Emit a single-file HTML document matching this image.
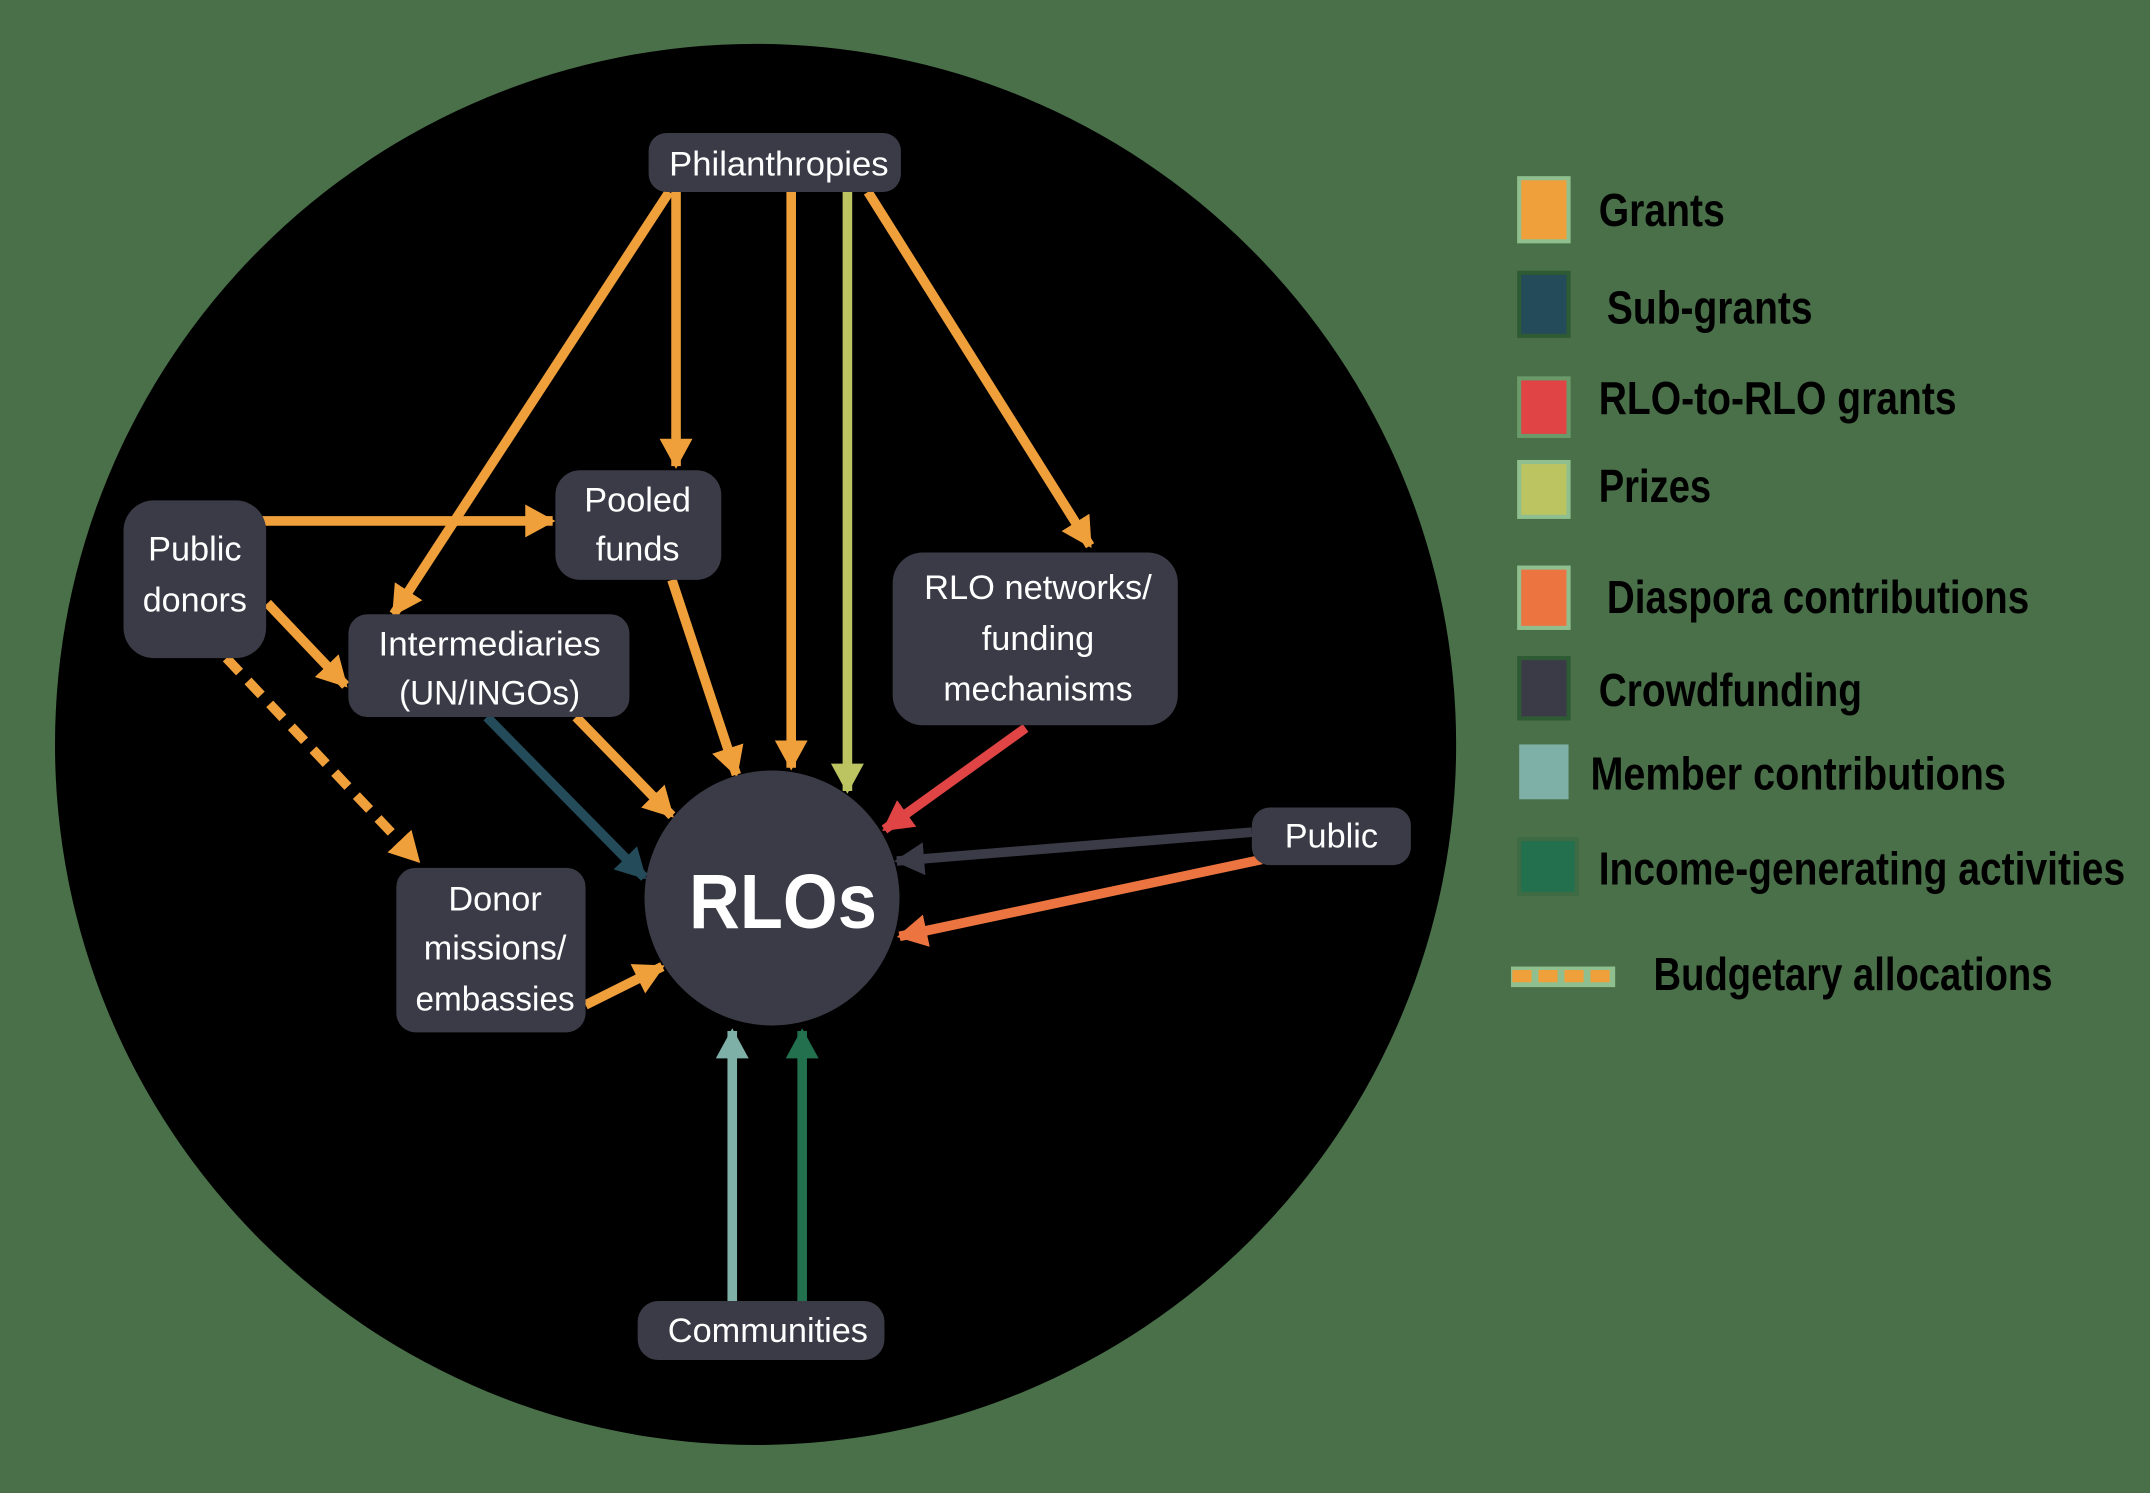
<!DOCTYPE html>
<html><head><meta charset="utf-8"><style>
html,body{margin:0;padding:0;background:#4a7049;}
svg{display:block}
text{font-family:"Liberation Sans",sans-serif}
</style></head><body>
<svg width="2150" height="1493" viewBox="0 0 1568 1089" xmlns="http://www.w3.org/2000/svg">
<defs>
<marker id="mo" markerUnits="userSpaceOnUse" markerWidth="26" markerHeight="26" refX="20" refY="12" orient="auto"><path d="M0,0 L22,12 L0,24 Z" fill="#f0a03a"/></marker>
<marker id="mt" markerUnits="userSpaceOnUse" markerWidth="26" markerHeight="26" refX="20" refY="12" orient="auto"><path d="M0,0 L22,12 L0,24 Z" fill="#234b5a"/></marker>
<marker id="mr" markerUnits="userSpaceOnUse" markerWidth="26" markerHeight="26" refX="20" refY="12" orient="auto"><path d="M0,0 L22,12 L0,24 Z" fill="#e04444"/></marker>
<marker id="my" markerUnits="userSpaceOnUse" markerWidth="26" markerHeight="26" refX="20" refY="12" orient="auto"><path d="M0,0 L22,12 L0,24 Z" fill="#bcc462"/></marker>
<marker id="md" markerUnits="userSpaceOnUse" markerWidth="26" markerHeight="26" refX="20" refY="12" orient="auto"><path d="M0,0 L22,12 L0,24 Z" fill="#3b3b48"/></marker>
<marker id="m2" markerUnits="userSpaceOnUse" markerWidth="26" markerHeight="26" refX="20" refY="12" orient="auto"><path d="M0,0 L22,12 L0,24 Z" fill="#ec7440"/></marker>
<marker id="mm" markerUnits="userSpaceOnUse" markerWidth="26" markerHeight="26" refX="20" refY="12" orient="auto"><path d="M0,0 L22,12 L0,24 Z" fill="#7fb0a8"/></marker>
<marker id="mi" markerUnits="userSpaceOnUse" markerWidth="26" markerHeight="26" refX="20" refY="12" orient="auto"><path d="M0,0 L22,12 L0,24 Z" fill="#22704e"/></marker>
</defs>
<rect width="1568" height="1089" fill="#4a7049"/>
<circle cx="551" cy="543" r="511" fill="#000"/>
<g stroke-width="7" fill="none">
<line x1="488" y1="140" x2="287" y2="448" stroke="#f0a03a" marker-end="url(#mo)"/>
<line x1="493" y1="140" x2="493" y2="340" stroke="#f0a03a" marker-end="url(#mo)"/>
<line x1="577" y1="140" x2="577" y2="560" stroke="#f0a03a" marker-end="url(#mo)"/>
<line x1="618" y1="140" x2="618" y2="577" stroke="#bcc462" marker-end="url(#my)"/>
<line x1="633" y1="140" x2="795" y2="398" stroke="#f0a03a" marker-end="url(#mo)"/>
<line x1="190" y1="380" x2="403" y2="380" stroke="#f0a03a" marker-end="url(#mo)"/>
<line x1="195" y1="440" x2="252" y2="500" stroke="#f0a03a" marker-end="url(#mo)"/>
<line x1="165" y1="480" x2="305" y2="628" stroke="#f0a03a" stroke-dasharray="14,9" marker-end="url(#mo)"/>
<line x1="490" y1="423" x2="537" y2="565" stroke="#f0a03a" marker-end="url(#mo)"/>
<line x1="420" y1="523" x2="490" y2="595" stroke="#f0a03a" marker-end="url(#mo)"/>
<line x1="355" y1="523" x2="470" y2="640" stroke="#234b5a" marker-end="url(#mt)"/>
<line x1="748" y1="531" x2="645" y2="605" stroke="#e04444" marker-end="url(#mr)"/>
<line x1="913" y1="607" x2="654" y2="628" stroke="#3b3b48" marker-end="url(#md)"/>
<line x1="920" y1="627" x2="656" y2="683" stroke="#ec7440" marker-end="url(#m2)"/>
<line x1="427" y1="733" x2="483" y2="705" stroke="#f0a03a" marker-end="url(#mo)"/>
<line x1="534" y1="949" x2="534" y2="752" stroke="#7fb0a8" marker-end="url(#mm)"/>
<line x1="585" y1="949" x2="585" y2="752" stroke="#22704e" marker-end="url(#mi)"/>
</g>
<g fill="#3b3b48">
<rect x="473" y="97" width="184" height="43" rx="13"/>
<rect x="90" y="365" width="104" height="115" rx="22"/>
<rect x="405" y="343" width="121" height="80" rx="18"/>
<rect x="254" y="448" width="205" height="75" rx="14"/>
<rect x="651" y="403" width="208" height="126" rx="22"/>
<rect x="289" y="633" width="138" height="120" rx="14"/>
<rect x="913" y="589" width="116" height="42" rx="13"/>
<rect x="465" y="949" width="180" height="43" rx="15"/>
<circle cx="563" cy="655" r="93"/>
</g>
<g fill="#fff" font-size="25" text-anchor="middle">
<text x="568" y="128" textLength="160" lengthAdjust="spacingAndGlyphs">Philanthropies</text>
<text x="142" y="409">Public</text><text x="142" y="446" textLength="76" lengthAdjust="spacingAndGlyphs">donors</text>
<text x="465" y="373">Pooled</text><text x="465" y="409">funds</text>
<text x="357" y="478" textLength="162" lengthAdjust="spacingAndGlyphs">Intermediaries</text><text x="357" y="514" textLength="132" lengthAdjust="spacingAndGlyphs">(UN/INGOs)</text>
<text x="757" y="437" textLength="166" lengthAdjust="spacingAndGlyphs">RLO networks/</text><text x="757" y="474">funding</text><text x="757" y="511" textLength="138" lengthAdjust="spacingAndGlyphs">mechanisms</text>
<text x="361" y="664">Donor</text><text x="361" y="700" textLength="104" lengthAdjust="spacingAndGlyphs">missions/</text><text x="361" y="737" textLength="116" lengthAdjust="spacingAndGlyphs">embassies</text>
<text x="971" y="618">Public</text>
<text x="560" y="979" textLength="146" lengthAdjust="spacingAndGlyphs">Communities</text>
<text x="571" y="677" font-size="56" font-weight="bold" textLength="137" lengthAdjust="spacingAndGlyphs">RLOs</text>
</g>
<g>
<rect x="1108" y="130" width="36" height="46" fill="#f0a03a" stroke="#8fbf8f" stroke-width="3"/>
<rect x="1108" y="199" width="36" height="46" fill="#234b5a" stroke="#2e5a34" stroke-width="3"/>
<rect x="1108" y="276" width="36" height="42" fill="#e04444" stroke="#6a9a6a" stroke-width="3"/>
<rect x="1108" y="337" width="36" height="40" fill="#bcc462" stroke="#8fbf8f" stroke-width="3"/>
<rect x="1108" y="414" width="36" height="44" fill="#ec7440" stroke="#8fbf8f" stroke-width="3"/>
<rect x="1108" y="480" width="36" height="44" fill="#3b3b48" stroke="#2e5a34" stroke-width="3"/>
<rect x="1108" y="543" width="36" height="40" fill="#7fb0a8"/>
<rect x="1108" y="612" width="42" height="40" fill="#22704e" stroke="#3e6a44" stroke-width="3"/>
<rect x="1102" y="705" width="76" height="15" fill="#8fbf8f"/>
<line x1="1103" y1="712" x2="1177" y2="712" stroke="#f0a03a" stroke-width="9" stroke-dasharray="14,5"/>
</g>
<g fill="#000" font-size="34" font-weight="bold" lengthAdjust="spacingAndGlyphs">
<text x="1166" y="165" textLength="92" lengthAdjust="spacingAndGlyphs">Grants</text>
<text x="1172" y="236" textLength="150" lengthAdjust="spacingAndGlyphs">Sub-grants</text>
<text x="1166" y="302" textLength="261" lengthAdjust="spacingAndGlyphs">RLO-to-RLO grants</text>
<text x="1166" y="366" textLength="82" lengthAdjust="spacingAndGlyphs">Prizes</text>
<text x="1172" y="447" textLength="308" lengthAdjust="spacingAndGlyphs">Diaspora contributions</text>
<text x="1166" y="515" textLength="192" lengthAdjust="spacingAndGlyphs">Crowdfunding</text>
<text x="1160" y="576" textLength="303" lengthAdjust="spacingAndGlyphs">Member contributions</text>
<text x="1166" y="645" textLength="384" lengthAdjust="spacingAndGlyphs">Income-generating activities</text>
<text x="1206" y="722" textLength="291" lengthAdjust="spacingAndGlyphs">Budgetary allocations</text>
</g>
</svg>
</body></html>
